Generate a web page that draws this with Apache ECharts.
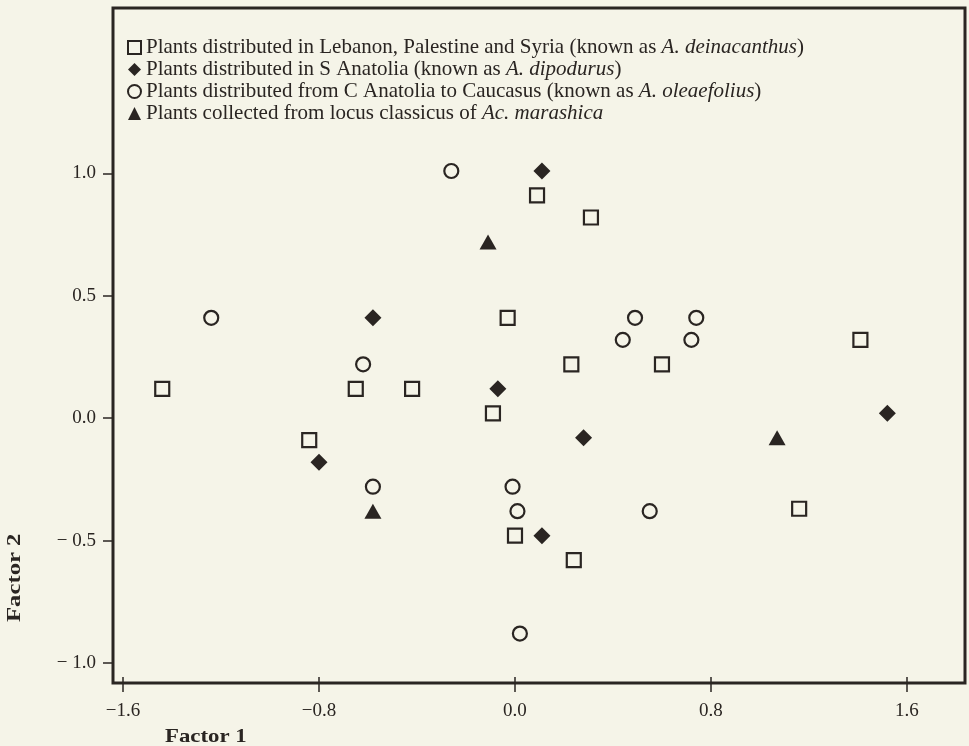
<!DOCTYPE html>
<html>
<head>
    <meta charset="utf-8">
    <title>Factor 1 / Factor 2</title>
    <script type="text/javascript" src="https://cdn.jsdelivr.net/npm/echarts@6/dist/echarts.min.js"></script>
    <style>
        html, body { margin: 0; padding: 0; background: #f5f4e8; }
    </style>
</head>
<body>
<div id="main" style="width: 969px;height:746px;"></div>
<script type="text/javascript">

    // 数据: [Factor 1, Factor 2]
    var deinacanthus = [
        [-1.44, 0.12], [-0.84, -0.09], [-0.65, 0.12], [-0.42, 0.12],
        [-0.03, 0.41], [-0.09, 0.02], [0.09, 0.91], [0.31, 0.82],
        [0.23, 0.22], [0.60, 0.22], [1.41, 0.32], [1.16, -0.37],
        [0.00, -0.48], [0.24, -0.58]
    ];
    var dipodurus = [
        [0.11, 1.01], [-0.58, 0.41], [-0.07, 0.12], [0.28, -0.08],
        [-0.80, -0.18], [0.11, -0.48], [1.52, 0.02]
    ];
    var oleaefolius = [
        [-0.26, 1.01], [-1.24, 0.41], [-0.62, 0.22], [0.49, 0.41],
        [0.44, 0.32], [0.74, 0.41], [0.72, 0.32], [-0.58, -0.28],
        [-0.01, -0.28], [0.01, -0.38], [0.55, -0.38], [0.02, -0.88]
    ];
    var marashica = [
        [-0.11, 0.72], [-0.58, -0.38], [1.07, -0.08]
    ];

    var xTicks = [-1.6, -0.8, 0.0, 0.8, 1.6];
    var yTicks = [-1.0, -0.5, 0.0, 0.5, 1.0];

    var ink = '#2a2522';
    var paper = '#f5f4e8';
    var serif = '"Liberation Serif", "DejaVu Serif", serif';

    var myChart = echarts.init(document.getElementById('main'));

    function yLabel(v) {
        var s = Math.abs(v).toFixed(1);
        return v < 0 ? '\u2212 ' + s : s;
    }
    function xLabel(v) {
        var s = Math.abs(v).toFixed(1);
        return v < 0 ? '\u2212' + s : s;
    }

    var openStyle = { color: paper, borderColor: ink, borderWidth: 2.2, opacity: 1 };
    var fillStyle = { color: ink, opacity: 1 };

    myChart.setOption({
        backgroundColor: paper,
        animation: false,
        textStyle: { fontFamily: serif, color: ink },
        grid: {
            left: 113, right: 4, top: 8, bottom: 63,
            show: true,
            borderColor: ink,
            borderWidth: 3,
            backgroundColor: 'transparent'
        },
        legend: {
            orient: 'vertical',
            left: 127,
            top: 37,
            itemWidth: 13,
            itemHeight: 13,
            itemGap: 1,
            padding: 0,
            data: ['deinacanthus', 'dipodurus', 'oleaefolius', 'marashica'],
            formatter: function (name) {
                if (name === 'deinacanthus') return 'Plants distributed in Lebanon, Palestine and Syria (known as {i|A. deinacanthus})';
                if (name === 'dipodurus') return 'Plants distributed in S Anatolia (known as {i|A. dipodurus})';
                if (name === 'oleaefolius') return 'Plants distributed from C Anatolia to Caucasus (known as {i|A. oleaefolius})';
                return 'Plants collected from locus classicus of {i|Ac. marashica}';
            },
            textStyle: {
                fontFamily: serif,
                fontSize: 21,
                lineHeight: 20,
                color: ink,
                rich: {
                    i: { fontFamily: serif, fontSize: 21, lineHeight: 20, fontStyle: 'italic', color: ink }
                }
            }
        },
        xAxis: [{
            type: 'value',
            min: -1.641,
            max: 1.837,
            splitLine: { show: false },
            axisLine: { show: false, onZero: false },
            axisTick: {
                show: true, inside: false, length: 9,
                lineStyle: { color: ink, width: 1.5 },
                customValues: xTicks
            },
            axisLabel: {
                margin: 19,
                fontFamily: serif,
                fontSize: 19,
                color: ink,
                customValues: xTicks,
                formatter: xLabel
            }
        }, {
            type: 'value',
            position: 'bottom',
            min: -1.641,
            max: 1.837,
            splitLine: { show: false },
            axisLine: { show: false, onZero: false },
            axisTick: {
                show: true, inside: true, length: 6,
                lineStyle: { color: ink, width: 1.5 },
                customValues: xTicks
            },
            axisLabel: { show: false }
        }],
        yAxis: {
            type: 'value',
            min: -1.082,
            max: 1.676,
            splitLine: { show: false },
            axisLine: { show: false, onZero: false },
            axisTick: {
                show: true, inside: false, length: 10,
                lineStyle: { color: ink, width: 1.5 },
                customValues: yTicks
            },
            axisLabel: {
                margin: 17,
                fontFamily: serif,
                fontSize: 19,
                color: ink,
                customValues: yTicks,
                formatter: yLabel
            }
        },
        graphic: [{
            type: 'text',
            x: 165,
            y: 728,
            scaleX: 1.2,
            style: {
                text: 'Factor 1',
                font: 'bold 19px ' + serif,
                fill: ink
            }
        }, {
            type: 'text',
            x: 6,
            y: 622,
            rotation: Math.PI / 2,
            scaleX: 1.3,
            style: {
                text: 'Factor 2',
                font: 'bold 19px ' + serif,
                fill: ink
            }
        }],
        series: [{
            name: 'deinacanthus',
            type: 'scatter',
            symbol: 'rect',
            symbolSize: 14,
            itemStyle: openStyle,
            data: deinacanthus
        }, {
            name: 'dipodurus',
            type: 'scatter',
            symbol: 'diamond',
            symbolSize: [17, 17],
            itemStyle: fillStyle,
            data: dipodurus
        }, {
            name: 'oleaefolius',
            type: 'scatter',
            symbol: 'circle',
            symbolSize: 14,
            itemStyle: openStyle,
            data: oleaefolius
        }, {
            name: 'marashica',
            type: 'scatter',
            symbol: 'triangle',
            symbolSize: [17, 15],
            itemStyle: fillStyle,
            data: marashica
        }]
    });

</script>
</body>
</html>
